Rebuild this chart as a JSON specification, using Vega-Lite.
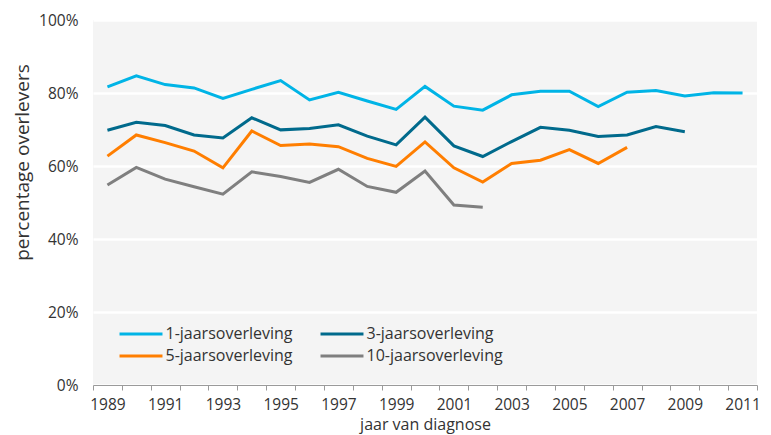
{
  "$schema": "https://vega.github.io/schema/vega-lite/v6.json",
  "width": 664,
  "height": 365,
  "autosize": {"type": "none"},
  "padding": {"left": 93, "top": 20, "right": 14, "bottom": 50},
  "background": "white",
  "config": {
    "font": "Open Sans",
    "view": {"fill": "#f4f4f4", "stroke": null},
    "axis": {"labelFont": "Open Sans", "titleFont": "Open Sans", "labelColor": "#333333", "titleColor": "#333333", "titleFontWeight": "normal"}
  },
  "data": {
    "values": [
      {"jaar": "1989", "reeks": "1-jaarsoverleving", "pct": 0.817},
      {"jaar": "1990", "reeks": "1-jaarsoverleving", "pct": 0.847},
      {"jaar": "1991", "reeks": "1-jaarsoverleving", "pct": 0.823},
      {"jaar": "1992", "reeks": "1-jaarsoverleving", "pct": 0.814},
      {"jaar": "1993", "reeks": "1-jaarsoverleving", "pct": 0.785},
      {"jaar": "1994", "reeks": "1-jaarsoverleving", "pct": 0.810},
      {"jaar": "1995", "reeks": "1-jaarsoverleving", "pct": 0.834},
      {"jaar": "1996", "reeks": "1-jaarsoverleving", "pct": 0.781},
      {"jaar": "1997", "reeks": "1-jaarsoverleving", "pct": 0.802},
      {"jaar": "1998", "reeks": "1-jaarsoverleving", "pct": 0.778},
      {"jaar": "1999", "reeks": "1-jaarsoverleving", "pct": 0.755},
      {"jaar": "2000", "reeks": "1-jaarsoverleving", "pct": 0.818},
      {"jaar": "2001", "reeks": "1-jaarsoverleving", "pct": 0.764},
      {"jaar": "2002", "reeks": "1-jaarsoverleving", "pct": 0.753},
      {"jaar": "2003", "reeks": "1-jaarsoverleving", "pct": 0.795},
      {"jaar": "2004", "reeks": "1-jaarsoverleving", "pct": 0.805},
      {"jaar": "2005", "reeks": "1-jaarsoverleving", "pct": 0.805},
      {"jaar": "2006", "reeks": "1-jaarsoverleving", "pct": 0.763},
      {"jaar": "2007", "reeks": "1-jaarsoverleving", "pct": 0.802},
      {"jaar": "2008", "reeks": "1-jaarsoverleving", "pct": 0.807},
      {"jaar": "2009", "reeks": "1-jaarsoverleving", "pct": 0.792},
      {"jaar": "2010", "reeks": "1-jaarsoverleving", "pct": 0.801},
      {"jaar": "2011", "reeks": "1-jaarsoverleving", "pct": 0.800},
      {"jaar": "1989", "reeks": "3-jaarsoverleving", "pct": 0.698},
      {"jaar": "1990", "reeks": "3-jaarsoverleving", "pct": 0.720},
      {"jaar": "1991", "reeks": "3-jaarsoverleving", "pct": 0.711},
      {"jaar": "1992", "reeks": "3-jaarsoverleving", "pct": 0.685},
      {"jaar": "1993", "reeks": "3-jaarsoverleving", "pct": 0.677},
      {"jaar": "1994", "reeks": "3-jaarsoverleving", "pct": 0.732},
      {"jaar": "1995", "reeks": "3-jaarsoverleving", "pct": 0.699},
      {"jaar": "1996", "reeks": "3-jaarsoverleving", "pct": 0.703},
      {"jaar": "1997", "reeks": "3-jaarsoverleving", "pct": 0.713},
      {"jaar": "1998", "reeks": "3-jaarsoverleving", "pct": 0.682},
      {"jaar": "1999", "reeks": "3-jaarsoverleving", "pct": 0.658},
      {"jaar": "2000", "reeks": "3-jaarsoverleving", "pct": 0.734},
      {"jaar": "2001", "reeks": "3-jaarsoverleving", "pct": 0.655},
      {"jaar": "2002", "reeks": "3-jaarsoverleving", "pct": 0.626},
      {"jaar": "2003", "reeks": "3-jaarsoverleving", "pct": 0.667},
      {"jaar": "2004", "reeks": "3-jaarsoverleving", "pct": 0.706},
      {"jaar": "2005", "reeks": "3-jaarsoverleving", "pct": 0.698},
      {"jaar": "2006", "reeks": "3-jaarsoverleving", "pct": 0.681},
      {"jaar": "2007", "reeks": "3-jaarsoverleving", "pct": 0.685},
      {"jaar": "2008", "reeks": "3-jaarsoverleving", "pct": 0.708},
      {"jaar": "2009", "reeks": "3-jaarsoverleving", "pct": 0.694},
      {"jaar": "1989", "reeks": "5-jaarsoverleving", "pct": 0.627},
      {"jaar": "1990", "reeks": "5-jaarsoverleving", "pct": 0.685},
      {"jaar": "1991", "reeks": "5-jaarsoverleving", "pct": 0.664},
      {"jaar": "1992", "reeks": "5-jaarsoverleving", "pct": 0.641},
      {"jaar": "1993", "reeks": "5-jaarsoverleving", "pct": 0.595},
      {"jaar": "1994", "reeks": "5-jaarsoverleving", "pct": 0.696},
      {"jaar": "1995", "reeks": "5-jaarsoverleving", "pct": 0.656},
      {"jaar": "1996", "reeks": "5-jaarsoverleving", "pct": 0.660},
      {"jaar": "1997", "reeks": "5-jaarsoverleving", "pct": 0.653},
      {"jaar": "1998", "reeks": "5-jaarsoverleving", "pct": 0.621},
      {"jaar": "1999", "reeks": "5-jaarsoverleving", "pct": 0.599},
      {"jaar": "2000", "reeks": "5-jaarsoverleving", "pct": 0.666},
      {"jaar": "2001", "reeks": "5-jaarsoverleving", "pct": 0.595},
      {"jaar": "2002", "reeks": "5-jaarsoverleving", "pct": 0.556},
      {"jaar": "2003", "reeks": "5-jaarsoverleving", "pct": 0.607},
      {"jaar": "2004", "reeks": "5-jaarsoverleving", "pct": 0.616},
      {"jaar": "2005", "reeks": "5-jaarsoverleving", "pct": 0.645},
      {"jaar": "2006", "reeks": "5-jaarsoverleving", "pct": 0.607},
      {"jaar": "2007", "reeks": "5-jaarsoverleving", "pct": 0.651},
      {"jaar": "1989", "reeks": "10-jaarsoverleving", "pct": 0.548},
      {"jaar": "1990", "reeks": "10-jaarsoverleving", "pct": 0.596},
      {"jaar": "1991", "reeks": "10-jaarsoverleving", "pct": 0.564},
      {"jaar": "1992", "reeks": "10-jaarsoverleving", "pct": 0.543},
      {"jaar": "1993", "reeks": "10-jaarsoverleving", "pct": 0.523},
      {"jaar": "1994", "reeks": "10-jaarsoverleving", "pct": 0.584},
      {"jaar": "1995", "reeks": "10-jaarsoverleving", "pct": 0.571},
      {"jaar": "1996", "reeks": "10-jaarsoverleving", "pct": 0.555},
      {"jaar": "1997", "reeks": "10-jaarsoverleving", "pct": 0.591},
      {"jaar": "1998", "reeks": "10-jaarsoverleving", "pct": 0.544},
      {"jaar": "1999", "reeks": "10-jaarsoverleving", "pct": 0.528},
      {"jaar": "2000", "reeks": "10-jaarsoverleving", "pct": 0.586},
      {"jaar": "2001", "reeks": "10-jaarsoverleving", "pct": 0.493},
      {"jaar": "2002", "reeks": "10-jaarsoverleving", "pct": 0.487}
    ]
  },
  "mark": {"type": "line", "strokeWidth": 3, "strokeJoin": "miter", "strokeCap": "butt"},
  "encoding": {
    "x": {
      "field": "jaar",
      "type": "ordinal",
      "scale": {"type": "band", "paddingInner": 0, "paddingOuter": 0},
      "axis": {
        "title": "jaar van diagnose",
        "titleFontSize": 16,
        "titlePadding": 4,
        "labelFontSize": 15.5,
        "labelAngle": 0,
        "labelPadding": 7,
        "labelExpr": "toNumber(datum.value) % 2 == 1 ? datum.label : ''",
        "tickBand": "extent",
        "tickSize": 5,
        "tickColor": "#9a9a9a",
        "domainColor": "#9a9a9a",
        "domainWidth": 1,
        "grid": false
      }
    },
    "y": {
      "field": "pct",
      "type": "quantitative",
      "scale": {"domain": [0, 1]},
      "axis": {
        "title": "percentage overlevers",
        "titleFontSize": 19,
        "titleX": -71,
        "titleY": 142,
        "titleAngle": -90,
        "titleAlign": "center",
        "titleBaseline": "middle",
        "labelFontSize": 15.5,
        "labelPadding": 15,
        "format": ".0%",
        "values": [0, 0.2, 0.4, 0.6, 0.8, 1],
        "ticks": false,
        "domain": false,
        "grid": true,
        "gridColor": "white",
        "gridWidth": 2.5
      }
    },
    "color": {
      "field": "reeks",
      "type": "nominal",
      "scale": {
        "domain": ["1-jaarsoverleving", "3-jaarsoverleving", "5-jaarsoverleving", "10-jaarsoverleving"],
        "range": ["#00b4e6", "#006a8c", "#ff7e00", "#7f7f7f"]
      },
      "legend": {
        "title": null,
        "orient": "none",
        "legendX": 40,
        "legendY": 306,
        "columns": 2,
        "direction": "horizontal",
        "symbolType": "M-3.58,0H3.58",
        "symbolSize": 144,
        "symbolStrokeWidth": 3,
        "labelFontSize": 16,
        "labelFont": "Open Sans",
        "labelColor": "#333333",
        "labelOffset": 16.5,
        "columnPadding": 21,
        "rowPadding": 6,
        "labelLimit": 300
      }
    }
  }
}
